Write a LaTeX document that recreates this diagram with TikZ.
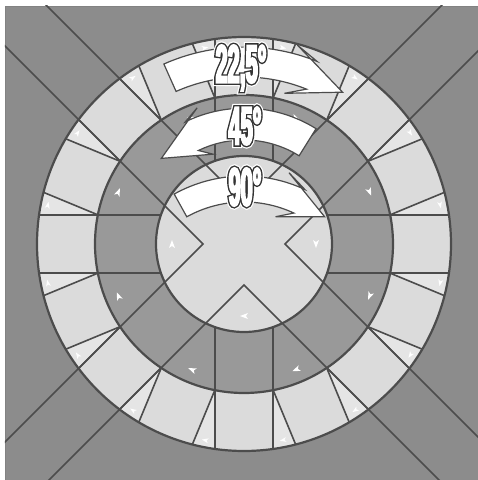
\documentclass[tikz,border=0pt]{standalone}
\usepackage{fontspec}
\usepackage{xcolor}
\usepackage{tikz}
\newfontfamily\labelfont[FakeStretch=0.4]{Liberation Sans}
\definecolor{ground}{gray}{0.55}
\definecolor{ringdark}{gray}{0.6}
\definecolor{tile}{gray}{0.86}
\definecolor{wedge}{gray}{0.9}
\definecolor{ink}{gray}{0.3}
% white letters with a dark rim and a white halo
\newcommand\rimpass[3]{\special{pdf:literal direct 2 Tr #1 G #2 w}#3\special{pdf:literal direct 0 Tr}}
\newcommand\rimtext[1]{\rlap{\rimpass{1}{7}{#1}}\rlap{\rimpass{0.2}{4.6}{#1}}\rimpass{1}{1.8}{#1}}

\begin{document}
\begin{tikzpicture}[x=1pt,y=1pt,
  edge/.style={draw=ink,line width=1.6pt},
  rim/.style={draw=ink,line width=2.2pt},
  turn/.style={fill=white,draw=ink,line width=1.2pt,line join=miter},
  deg/.style={font=\labelfont\bfseries\fontsize{54}{54}\selectfont,text=white,inner sep=0pt},
  tipmark/.pic={\fill[white] (4,0) -- (-4,3) -- (-2,0) -- (-4,-3) -- cycle;}]
\useasboundingbox (-244,-236) rectangle (234,244);
\fill[white] (-244,-236) rectangle (234,244);
\fill[ground,draw=ink!70,line width=0.6pt] (-239,-236) rectangle (234,238);
% rings
\fill[tile] (0,0) circle[radius=207pt];
\foreach \k in {0,...,15} {
  \fill[wedge] (\k*22.5+11.22:149) -- (\k*22.5+8.05:207)
    arc[start angle=\k*22.5+8.05,end angle=\k*22.5+14.45,radius=207pt] -- cycle;
}
\fill[ringdark] (0,0) circle[radius=149pt];
\fill[tile] (0,0) circle[radius=88pt];
% tile edges, outer ring
\foreach \k in {0,...,15} {
  \draw[edge] (\k*22.5+11.22:149) -- (\k*22.5+8.05:207);
  \draw[edge] (\k*22.5-11.22:149) -- (\k*22.5-8.05:207);
}
% tile edges, middle ring
\foreach \a in {0,90,180,270} {
  \draw[edge] (\a+19.24:88) -- (\a+11.22:149);
  \draw[edge] (\a-19.24:88) -- (\a-11.22:149);
}
\draw[rim] (0,0) circle[radius=88pt] (0,0) circle[radius=149pt] (0,0) circle[radius=207pt];
% the cross
\begin{scope}
\clip (-239,-236) rectangle (234,238);
\foreach \c/\a/\b in {0/45/-45,90/45/135,180/135/225,270/225/315}
  \draw[edge,line join=miter] (\c:41) ++(\a:400) -- (\c:41) -- ++(\b:400);
\end{scope}
% little marks
\foreach \k in {0,...,15}
  \pic[rotate=\k*22.5+11.25-90,scale=0.8] at (\k*22.5+11.25:200) {tipmark};
\foreach \k in {0,...,7}
  \pic[rotate=\k*45+22.5-90] at (\k*45+22.5:136) {tipmark};
\foreach \a in {0,180,270}
  \pic[rotate=\a-90] at (\a:72) {tipmark};
% turning arrows
\filldraw[turn] (114:197) arc[start angle=114,end angle=68,radius=196pt]
  -- (75:206) -- (57:181) -- (75:156) -- (68:167)
  arc[start angle=68,end angle=114,radius=167pt] -- cycle;
\filldraw[turn] (58:136) arc[start angle=58,end angle=116,radius=135pt]
  -- (109:144) -- (134:119) -- (109:95) -- (116:104)
  arc[start angle=116,end angle=58,radius=104pt] -- cycle;
\begin{scope}[shift={(0,-76)}]
\filldraw[turn] (119:144) arc[start angle=119,end angle=65,radius=144pt]
  -- (73:154) -- (52:131) -- (73:108) -- (65:118)
  arc[start angle=65,end angle=119,radius=118pt] -- cycle;
\end{scope}
\node[deg] (l22) at (-3,176) {\rimtext{22,5°}};
\node[deg] (l45) at (1,118) {\rimtext{45°}};
\node[deg] (l90) at (1,57) {\rimtext{90°}};
\end{tikzpicture}
\end{document}
